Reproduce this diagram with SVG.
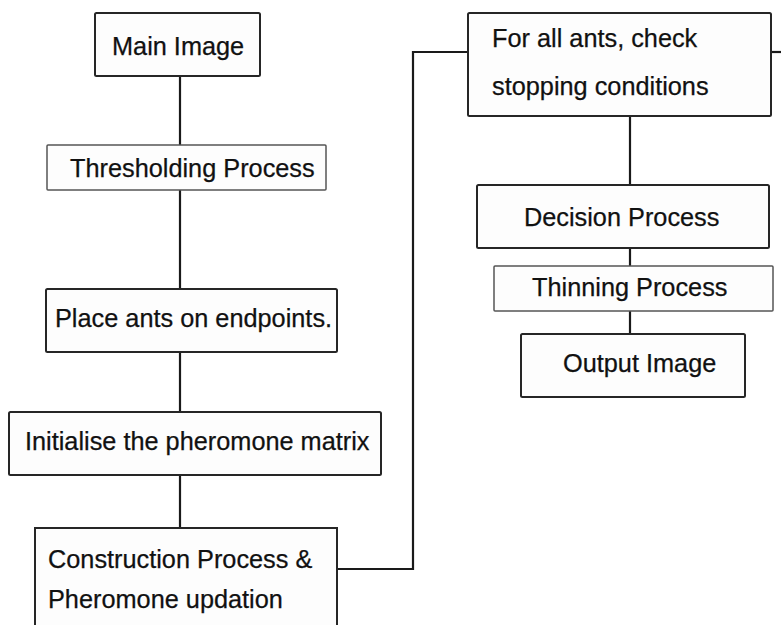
<svg xmlns="http://www.w3.org/2000/svg" width="781" height="625" viewBox="0 0 781 625">
<style>
.box{fill:#fdfdfd;stroke:#262626;stroke-width:2}
.lt{fill:#fdfdfd;stroke:#555;stroke-width:1.5}
.t{font-family:"Liberation Sans",Arial,sans-serif;font-size:25.3px;fill:#111;stroke:#111;stroke-width:0.25}
.c{fill:none;stroke:#1a1a1a;stroke-width:2.2}
</style>
<rect width="781" height="625" fill="#ffffff"/>
<g id="connectors">
<line class="c" x1="180" y1="76" x2="180" y2="145"/>
<line class="c" x1="180" y1="190" x2="180" y2="289"/>
<line class="c" x1="180" y1="352" x2="180" y2="412"/>
<line class="c" x1="180" y1="475" x2="180" y2="528"/>
<polyline class="c" points="337,569 413,569 413,52 468,52"/>
<line class="c" x1="771" y1="52" x2="781" y2="52"/>
<line class="c" x1="630" y1="116" x2="630" y2="185"/>
<line class="c" x1="630" y1="248" x2="630" y2="266"/>
<line class="c" x1="630" y1="311" x2="630" y2="334"/>
</g>
<g id="main-image">
<rect class="box" x="95" y="13" width="165" height="63" rx="1.5"/>
<text class="t" x="112" y="55">Main Image</text>
</g>
<g id="thresholding">
<rect class="lt" x="47" y="145" width="279" height="45" rx="1"/>
<text class="t" x="70" y="177">Thresholding Process</text>
</g>
<g id="place-ants">
<rect class="box" x="46" y="289" width="291" height="63" rx="1.5"/>
<text class="t" x="55" y="327">Place ants on endpoints.</text>
</g>
<g id="initialise">
<rect class="box" x="9" y="412" width="372" height="63" rx="1.5"/>
<text class="t" x="25" y="450">Initialise the pheromone matrix</text>
</g>
<g id="construction">
<path class="box" d="M35,630 V528 H337 V630"/>
<text class="t" x="48" y="568">Construction Process &amp;</text>
<text class="t" x="48" y="608">Pheromone updation</text>
</g>
<g id="check-stopping">
<rect class="box" x="468" y="13" width="303" height="103" rx="1.5"/>
<text class="t" x="492" y="47">For all ants, check</text>
<text class="t" x="492" y="95">stopping conditions</text>
</g>
<g id="decision">
<rect class="box" x="477" y="185" width="292" height="63" rx="1.5"/>
<text class="t" x="524" y="226">Decision Process</text>
</g>
<g id="thinning">
<rect class="lt" x="494" y="266" width="279" height="45" rx="1"/>
<text class="t" x="532" y="296">Thinning Process</text>
</g>
<g id="output-image">
<rect class="box" x="521" y="334" width="224" height="63" rx="1.5"/>
<text class="t" x="563" y="372">Output Image</text>
</g>
</svg>
